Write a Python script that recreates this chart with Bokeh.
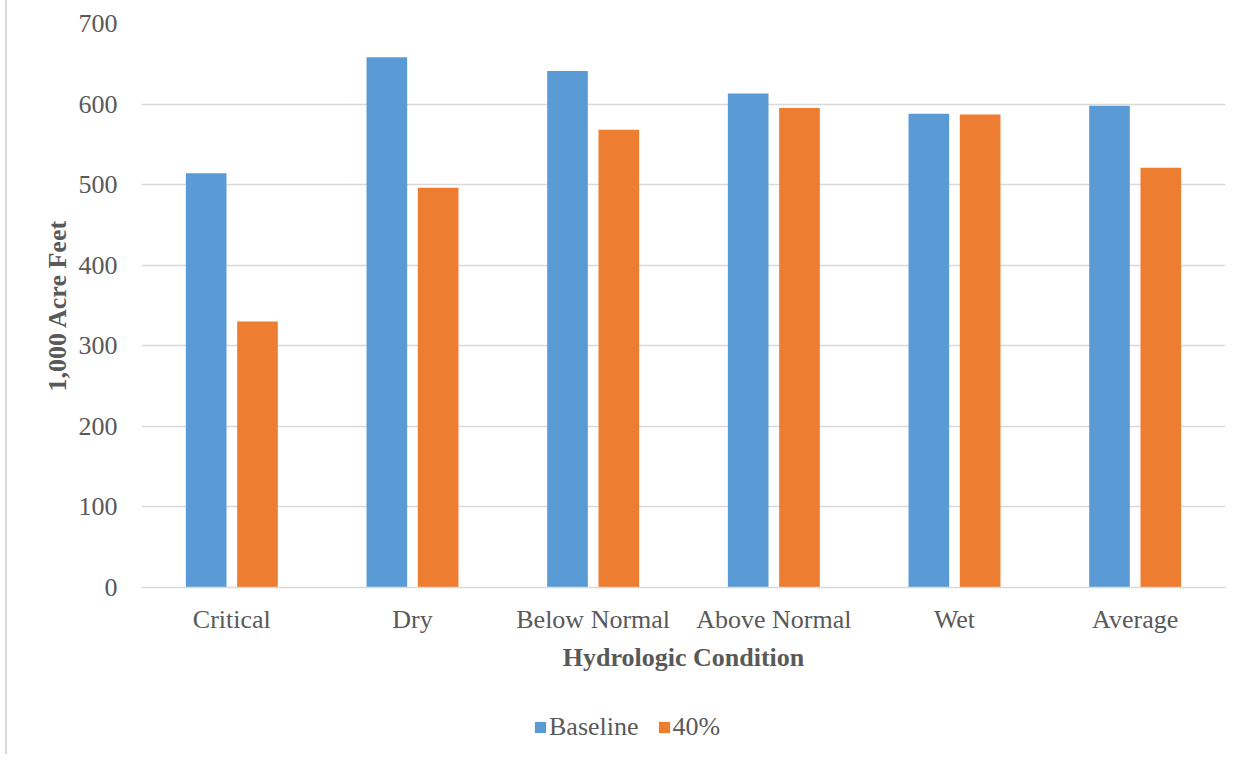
from bokeh.plotting import figure
from bokeh.layouts import column
from bokeh.models import ColumnDataSource, Legend, LegendItem, FactorRange
from bokeh.transform import dodge
from bokeh.embed import file_html
from bokeh.resources import INLINE

categories = ["Critical", "Dry", "Below Normal", "Above Normal", "Wet", "Average"]
baseline = [514, 658, 641, 613, 588, 598]
pct40 = [330, 496, 568, 595, 587, 521]
series_names = ["Baseline", "40%"]
y_ticks = [0, 100, 200, 300, 400, 500, 600, 700]

FONT = "Liberation Serif"
TXT = "#595959"
GRID = "#d9d9d9"
BLUE = "#5b9bd5"
ORANGE = "#ed7d31"
LEFT_LINE = {"background": "linear-gradient(to right, #ffffff 5px, #d9d9d9 5px, #d9d9d9 7px, #ffffff 7px)"}

src = ColumnDataSource(dict(cat=categories, base=baseline, p40=pct40))

p = figure(x_range=FactorRange(*categories), y_range=(0, 700),
           width=1243, height=690, output_backend="svg", toolbar_location=None,
           min_border_left=141, min_border_right=18, min_border_top=23, min_border_bottom=103)
p.border_fill_color = None
p.styles = LEFT_LINE

p.vbar(x=dodge("cat", -0.142, range=p.x_range), top="base", width=0.225, source=src,
       fill_color=BLUE, line_color=None)
p.vbar(x=dodge("cat", 0.142, range=p.x_range), top="p40", width=0.225, source=src,
       fill_color=ORANGE, line_color=None)

p.outline_line_color = None
p.x_range.range_padding = 0
p.x_range.group_padding = 0

p.yaxis.ticker = y_ticks
p.ygrid.grid_line_color = GRID
p.ygrid.grid_line_width = 1.5
p.xgrid.grid_line_color = None

for ax in (p.xaxis[0], p.yaxis[0]):
    ax.major_tick_line_color = None
    ax.minor_tick_line_color = None
    ax.major_label_text_font = FONT
    ax.major_label_text_font_size = "26px"
    ax.major_label_text_color = TXT
    ax.axis_label_text_font = FONT
    ax.axis_label_text_font_size = "26px"
    ax.axis_label_text_font_style = "bold"
    ax.axis_label_text_color = TXT

p.yaxis.axis_line_color = None
p.yaxis.major_label_standoff = 18
p.yaxis.axis_label = "1,000 Acre Feet"
p.yaxis.axis_label_standoff = 4

p.xaxis.axis_line_color = GRID
p.xaxis.axis_line_width = 1.5
p.xaxis.major_label_standoff = 11
p.xaxis.axis_label = "Hydrologic Condition"
p.xaxis.axis_label_standoff = 6

# legend strip below the chart
p2 = figure(x_range=FactorRange(*categories), y_range=(1000, 1001),
            width=1243, height=64, output_backend="svg", toolbar_location=None,
            x_axis_location=None, y_axis_location=None,
            min_border_left=0, min_border_right=0, min_border_top=0, min_border_bottom=0)
p2.border_fill_color = None
p2.background_fill_color = None
p2.outline_line_color = None
p2.grid.grid_line_color = None
p2.styles = LEFT_LINE
l1 = p2.vbar(x="cat", top="base", width=0.2, source=src, fill_color=BLUE, line_color=None)
l2 = p2.vbar(x="cat", top="p40", width=0.2, source=src, fill_color=ORANGE, line_color=None)

legend = Legend(items=[LegendItem(label=series_names[0], renderers=[l1]),
                       LegendItem(label=series_names[1], renderers=[l2])],
                orientation="horizontal", location=(392, 12),
                label_text_font=FONT, label_text_font_size="26px", label_text_color=TXT,
                glyph_width=14, glyph_height=14, spacing=18, label_standoff=2,
                border_line_color=None, background_fill_alpha=0, margin=0, padding=0)
p2.add_layout(legend)

layout = column(p, p2, spacing=0)
open("out.html", "w").write(file_html(layout, INLINE))
